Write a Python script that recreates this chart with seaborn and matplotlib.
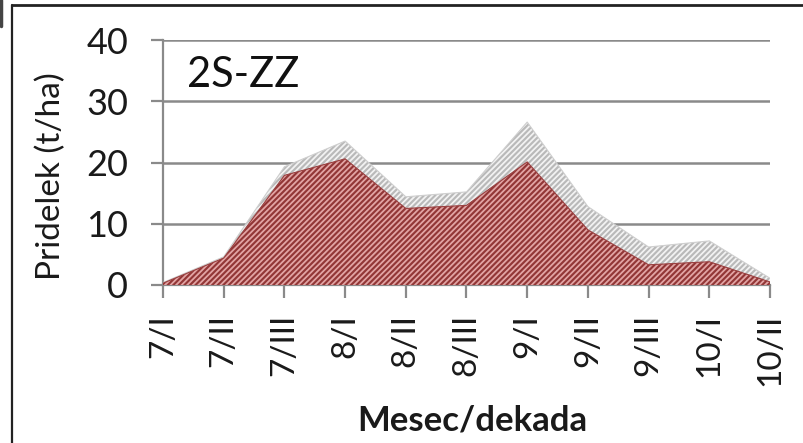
import matplotlib
matplotlib.use("Agg")
import matplotlib.pyplot as plt
import seaborn as sns
import pandas as pd
import numpy as np
from matplotlib.lines import Line2D

# ---- data ----
categories = ["7/I", "7/II", "7/III", "8/I", "8/II", "8/III",
              "9/I", "9/II", "9/III", "10/I", "10/II"]
series_red = [0.3, 4.4, 17.9, 20.6, 12.5, 13.0, 20.1, 9.0, 3.3, 3.8, 0.5]
series_grey = [0.1, 0.2, 1.4, 2.9, 1.9, 2.2, 6.5, 3.8, 2.9, 3.4, 0.6]
y_ticks = [0, 10, 20, 30, 40]
panel_label = "2S-ZZ"
x_title = "Mesec/dekada"
y_title = "Pridelek (t/ha)"

sns.set_theme(style="white")
plt.rcParams["font.family"] = ["Lato", "DejaVu Sans"]
plt.rcParams["hatch.linewidth"] = 1.3

df = pd.DataFrame({"cat": categories, "red": series_red, "grey": series_grey})
df["x"] = np.arange(len(df))
df["total"] = df["red"] + df["grey"]

fig = plt.figure(figsize=(8.04, 4.43), dpi=100)
ax = fig.add_axes([163 / 804, 1 - 285 / 443, (770 - 163) / 804, (285 - 40) / 443])

# stacked areas
ax.fill_between(df["x"], df["red"], df["total"], facecolor="#b9b9b9",
                edgecolor="#f2f2f2", hatch="//////", linewidth=0, zorder=2)
ax.fill_between(df["x"], 0, df["red"], facecolor="#923636",
                edgecolor="#e2a4a4", hatch="//////", linewidth=0, zorder=3)
sns.lineplot(data=df, x="x", y="total", ax=ax, color="#cfcfcf", lw=0.8, zorder=4)
sns.lineplot(data=df, x="x", y="red", ax=ax, color="#9a4040", lw=0.8, zorder=4)

ax.set_xlim(0, len(categories) - 1)
ax.set_ylim(0, 40)
ax.set_yticks(y_ticks)
ax.set_xticks(df["x"])
ax.set_xticklabels(categories, rotation=90, fontsize=24, color="#1a1a1a")
ax.tick_params(axis="y", labelsize=26, labelcolor="#1a1a1a", length=9,
               width=1.6, color="#8a8a8a", pad=16, left=True)
ax.tick_params(axis="x", length=9, width=1.6, color="#8a8a8a",
               pad=12, bottom=True, direction="out")

ax.grid(axis="y", color="#8a8a8a", lw=1.8, zorder=1)
ax.set_axisbelow(True)
for s in ["top", "right"]:
    ax.spines[s].set_visible(False)
for s in ["left", "bottom"]:
    ax.spines[s].set_color("#8a8a8a")
    ax.spines[s].set_linewidth(1.6)

ax.set_xlabel(x_title, fontsize=25, fontweight="bold", color="#1a1a1a", va="center")
ax.xaxis.set_label_coords((472 - 163) / 607, (285 - 421) / 245)
ax.set_ylabel(y_title, fontsize=24, color="#1a1a1a", va="center")
ax.yaxis.set_label_coords((51 - 163) / 607, (285 - 176) / 245)

ax.text((187 - 163) / 607, (285 - 87) / 245, panel_label, transform=ax.transAxes,
        fontsize=30, color="#111111", ha="left", va="baseline", zorder=6)

# outer frame lines of the cropped picture
fig.add_artist(Line2D([12 / 804, 1], [1 - 5 / 443, 1 - 5 / 443],
                      transform=fig.transFigure, color="#222222", lw=2))
fig.add_artist(Line2D([12 / 804, 12 / 804], [0, 1 - 5 / 443],
                      transform=fig.transFigure, color="#222222", lw=1.6))
fig.add_artist(Line2D([1.5 / 804, 1.5 / 804], [1 - 26 / 443, 1],
                      transform=fig.transFigure, color="#444444", lw=2.5))

fig.savefig("out.png", dpi=100)
